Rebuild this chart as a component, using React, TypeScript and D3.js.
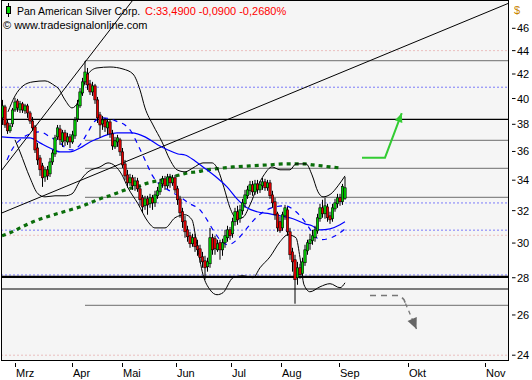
import React from "react";
import * as d3 from "d3";

const W = 532;
const H = 380;
const FONT = "'Liberation Sans', Arial, sans-serif";

// ---- OHLC (daily, late Feb .. early Sep) ----
const opens = [
  38.49, 39.34, 38.1, 37.51, 38.03, 39.1, 39.81, 39.1, 39.58, 39.03,
  39.42, 38.87, 38.25, 37.8, 36.25, 35.54, 34.98, 34.22, 34.71, 34.43,
  35.26, 35.82, 37.06, 37.65, 36.69, 37.36, 36.69, 37.06, 36.69, 37.13,
  38.41, 39.42, 40.45, 41.35, 42.0, 41.18, 40.53, 41.02, 39.89, 38.72,
  38.03, 38.33, 37.73, 38.18, 37.28, 36.33, 36.69, 36.84, 35.97, 35.12,
  34.36, 33.82, 34.16, 33.62, 33.95, 33.42, 32.83, 32.31, 32.76, 32.44,
  32.83, 32.5, 32.96, 33.22, 33.75, 34.09, 33.62, 34.16, 33.82, 34.16,
  33.42, 32.76, 31.93, 31.36, 30.8, 30.44, 29.96, 30.32, 29.84, 29.66,
  29.19, 28.96, 28.62, 28.79, 30.32, 30.26, 29.6, 30.02, 29.6, 30.02,
  30.32, 30.8, 30.56, 31.3, 31.93, 31.49, 31.99, 32.44, 32.96, 33.29,
  33.69, 33.22, 33.75, 33.35, 33.62, 33.89, 33.49, 33.82, 33.02, 32.57,
  31.8, 31.3, 30.92, 31.67, 32.05, 30.68, 29.48, 29.02, 28.0, 28.56,
  28.23, 28.85, 29.54, 29.96, 30.14, 30.32, 30.74, 31.49, 32.18, 31.8,
  32.24, 31.67, 31.49, 32.11, 32.44, 32.83, 32.57, 32.8,
];
const highs = [
  39.89, 39.5, 38.33, 38.1, 39.26, 40.05, 39.97, 39.81, 39.73, 39.58,
  39.58, 39.03, 38.56, 37.95, 36.62, 35.75, 35.19, 34.91, 34.98, 35.54,
  36.11, 37.21, 37.95, 37.95, 37.58, 37.58, 37.36, 37.28, 37.51, 38.56,
  39.89, 40.85, 41.68, 43.1, 42.51, 41.51, 41.35, 41.18, 40.13, 38.95,
  38.64, 38.49, 38.41, 38.33, 37.58, 37.06, 37.21, 36.99, 36.25, 35.4,
  34.71, 34.43, 34.36, 34.22, 34.16, 33.62, 33.02, 32.96, 32.96, 33.09,
  33.02, 33.29, 33.55, 34.09, 34.29, 34.29, 34.43, 34.43, 34.36, 34.36,
  33.62, 32.96, 32.18, 31.67, 31.05, 30.68, 30.56, 30.56, 30.2, 29.9,
  29.48, 29.25, 29.14, 30.92, 30.56, 30.44, 30.2, 30.2, 30.26, 30.8,
  31.05, 30.98, 31.55, 32.18, 32.31, 32.37, 32.76, 33.35, 33.62, 33.95,
  33.95, 34.02, 34.02, 33.95, 34.16, 34.09, 34.02, 34.02, 33.29, 32.83,
  31.93, 31.61, 31.93, 32.37, 32.24, 30.92, 29.72, 29.31, 28.9, 28.79,
  29.14, 29.9, 30.2, 30.56, 30.8, 31.05, 31.8, 32.44, 32.7, 32.83,
  32.44, 31.93, 32.44, 32.76, 33.09, 33.09, 33.75, 34.22,
];
const lows = [
  37.95, 37.73, 37.28, 37.36, 37.8, 38.95, 38.95, 38.87, 38.87, 38.8,
  38.49, 38.03, 37.51, 35.89, 35.05, 34.29, 33.55, 33.89, 34.02, 34.22,
  35.05, 35.61, 36.84, 36.47, 36.33, 36.4, 36.47, 36.25, 36.55, 36.91,
  38.18, 39.26, 40.21, 41.1, 40.69, 40.29, 40.21, 39.58, 38.1, 36.99,
  37.58, 37.43, 37.21, 36.99, 36.11, 36.18, 36.33, 35.68, 34.84, 34.02,
  33.49, 33.62, 33.35, 33.29, 33.22, 32.31, 31.86, 32.05, 31.74, 32.18,
  32.05, 32.24, 32.76, 33.02, 33.49, 33.35, 33.42, 33.49, 33.62, 33.15,
  32.37, 31.55, 30.92, 30.32, 30.08, 29.72, 29.78, 29.48, 29.25, 28.85,
  28.56, 27.89, 28.34, 28.56, 29.31, 29.31, 29.48, 29.02, 29.25, 29.72,
  30.08, 30.2, 30.32, 31.05, 31.11, 31.24, 31.74, 32.18, 32.76, 33.02,
  32.96, 33.02, 33.09, 33.15, 33.35, 33.29, 33.29, 32.76, 32.18, 31.42,
  30.68, 30.62, 30.74, 31.42, 30.44, 29.02, 28.34, 26.59, 27.61, 27.95,
  28.0, 28.67, 29.31, 29.6, 29.9, 30.08, 30.56, 31.3, 31.55, 31.49,
  31.3, 31.17, 31.3, 31.93, 32.18, 32.31, 32.37, 32.7,
];
const closes = [
  39.42, 37.95, 37.51, 37.88, 39.1, 39.73, 39.26, 39.58, 39.1, 39.42,
  38.87, 38.25, 37.73, 36.11, 35.4, 34.71, 34.16, 34.71, 34.29, 35.26,
  35.89, 36.99, 37.73, 36.84, 37.36, 36.77, 37.06, 36.69, 37.21, 38.33,
  39.5, 40.53, 41.35, 42.17, 41.1, 40.53, 41.02, 39.89, 38.49, 37.95,
  38.33, 37.8, 38.18, 37.28, 36.4, 36.77, 36.99, 35.97, 35.05, 34.29,
  33.82, 34.16, 33.62, 33.95, 33.42, 32.7, 32.24, 32.76, 32.37, 32.83,
  32.5, 33.02, 33.29, 33.82, 34.09, 33.62, 34.22, 33.82, 34.16, 33.35,
  32.7, 31.86, 31.3, 30.68, 30.38, 29.96, 30.32, 29.78, 29.6, 29.14,
  28.9, 28.56, 28.9, 30.32, 29.6, 29.66, 29.96, 29.6, 30.02, 30.44,
  30.8, 30.44, 31.3, 31.93, 31.42, 32.05, 32.5, 33.02, 33.35, 33.69,
  33.22, 33.75, 33.35, 33.69, 33.89, 33.49, 33.82, 32.96, 32.5, 31.74,
  30.92, 30.74, 31.74, 32.18, 30.68, 29.31, 28.9, 27.89, 28.56, 28.17,
  28.9, 29.6, 30.02, 30.2, 30.44, 30.8, 31.55, 32.18, 31.8, 32.31,
  31.55, 31.42, 32.18, 32.5, 32.83, 32.57, 33.58, 33.49,
];

// ---- axes ----
const monthLabels = ["Mrz", "Apr", "Mai", "Jun", "Jul", "Aug", "Sep", "Okt", "Nov"];
const monthPos = [4.84, 27.9, 48, 69.2, 91.6, 111.5, 134.7, 162, 193.1];
const yTickValues = [24, 26, 28, 30, 32, 34, 36, 38, 40, 42, 44, 46];

// ---- indicators [barIndex, price] ----
const bbUpper: [number, number][] = [
  [2.2, 38.95], [5, 40.21], [8.2, 41.02], [12.2, 41.35], [17, 41.43], [21, 41.02],
  [22.2, 40.85], [25, 39.89], [27.8, 39.26], [30.2, 39.73], [32.2, 40.85], [34.2, 42.0],
  [37.8, 42.51], [43, 42.59], [48.2, 42.42], [52.2, 42.0], [55, 40.69], [57, 39.26],
  [60.2, 37.95], [63.8, 36.69], [67, 35.4], [69.8, 34.71], [73, 34.57], [76.2, 34.84],
  [80.2, 35.19], [83.8, 35.19], [86.2, 34.71], [88.6, 33.49], [91, 32.18], [93.4, 31.55],
  [95.8, 31.55], [99, 32.37], [101.8, 33.49], [104.6, 34.36], [107.8, 34.91], [111, 34.71],
  [115, 34.71], [117.4, 35.12], [121.4, 35.12], [123.8, 34.36], [126.2, 33.22], [128.2, 32.89],
  [131.4, 33.09], [134.2, 33.62], [137, 34.29],
];
const bbLower: [number, number][] = [
  [5, 36.84], [7, 35.97], [11, 34.16], [14.2, 33.09], [17, 32.89], [21, 32.96],
  [25, 32.96], [27.8, 33.09], [31, 33.95], [34.2, 34.57], [39, 34.91], [42.2, 35.19],
  [45, 34.98], [47.8, 34.36], [50.2, 33.49], [54.2, 32.44], [58.2, 31.3], [61, 30.92],
  [65, 30.92], [69, 31.55], [73, 31.74], [75.8, 31.42], [77.8, 29.9], [80.2, 28.17],
  [83, 27.34], [85.8, 27.07], [88.2, 27.18], [92.2, 28.0], [96.2, 28.11], [100.2, 28.0],
  [103, 28.56], [107, 29.19], [111, 30.08], [114.2, 30.5], [117.4, 30.32], [119, 29.14],
  [120.6, 27.61], [123, 27.23], [127, 27.5], [131, 27.67], [135, 27.45], [137, 27.72],
];
const maSlow: [number, number][] = [
  [-0.2, 37.06], [7, 36.99], [11, 36.99], [15, 36.62], [19, 36.25], [23, 35.97],
  [27, 35.97], [31, 36.25], [35, 36.69], [37.8, 36.91], [41.8, 37.21], [45.8, 37.36],
  [51.8, 37.36], [57, 37.06], [62.2, 36.47], [66.2, 36.11], [70.2, 35.82], [73, 35.75],
  [77, 35.33], [80.2, 34.91], [85.8, 34.16], [89.8, 33.55], [93.8, 32.76], [97.8, 32.18],
  [101.8, 31.93], [107, 31.8], [111, 31.67], [116.2, 31.49], [121, 31.17], [123.8, 31.05],
  [127, 30.8], [131, 30.86], [135, 31.11], [137, 31.3],
];
const maFast: [number, number][] = [
  [1.8, 35.4], [4.2, 36.25], [7, 36.84], [11, 37.28], [15, 37.43], [19, 37.06],
  [23, 36.62], [25.8, 36.18], [27.8, 36.11], [31, 36.47], [34.2, 37.43], [37, 38.25],
  [39.8, 38.49], [43, 38.41], [46.2, 38.18], [49, 37.95], [51.8, 37.36], [53.8, 36.62],
  [57, 35.4], [59.8, 34.36], [63, 33.69], [66.2, 33.35], [71, 32.89], [75, 32.44],
  [79, 32.05], [81.8, 31.42], [84.2, 30.8], [87, 30.2], [90.2, 29.9], [94.2, 30.26],
  [98.2, 30.98], [101.4, 31.55], [105, 31.99], [109, 32.24], [113, 32.31], [117, 31.99],
  [121, 31.3], [123.8, 30.68], [127, 30.2], [130.2, 30.26], [133.8, 30.5], [137, 30.86],
];
const ma200: [number, number][] = [
  [-0.2, 30.44], [3, 30.62], [7, 30.92], [12.2, 31.3], [19, 31.67], [25.8, 31.99],
  [32.2, 32.31], [39, 32.76], [43.8, 33.02], [47, 33.22], [50.2, 33.42], [53.8, 33.55],
  [57, 33.75], [60.2, 33.89], [64.2, 34.02], [67.8, 34.22], [71, 34.36], [74.2, 34.5],
  [77.8, 34.57], [81.8, 34.71], [85, 34.77], [92.2, 34.91], [99, 34.98], [106.2, 35.05],
  [113, 35.12], [121, 35.12], [124.2, 35.05], [127.8, 34.98], [131, 34.91], [135, 34.84],
];

// ---- horizontal levels ----
const grayLevels = [43.13, 36.8, 34.81, 32.86, 26.5];
const grayStart = 33;
const blackLevels = [38.38, 27.38];
const thickLevel = 28.05;
const blueDotLevels = [40.83, 32.43, 30.72, 28.1];
const pinkDotLevels = [44.0, 30.47, 24.0];

// ---- trend lines & arrows ----
const steepTrend: [number, number][] = [[0, 34.75], [40, 44.99]];
const longTrend: [number, number][] = [[0, 31.87], [200, 48.11]];
const upArrow: [number, number][] = [[143.8, 35.56], [153, 35.56], [159.7, 38.85]];
const downArrow: [number, number][] = [[147, 27.03], [159, 27.03], [160.6, 26.8], [161.2, 26.6], [165.6, 25.28]];

const PL = 1.5, PR = 508.5, PT = 0.5, PB = 360.5;

const x = d3.scaleLinear().domain([0, 202]).range([2.5, 507.5]);
const y = d3.scaleLog().domain([24, 46]).range([355.2, 28.3]);

const GREEN = "#00d000";
const RED = "#e80000";

function extend(p: [number, number][]) {
  const x1 = x(p[0][0]), y1 = y(p[0][1]);
  const x2 = x(p[1][0]), y2 = y(p[1][1]);
  const m = (y2 - y1) / (x2 - x1);
  return { x1: PL, y1: y1 + m * (PL - x1), x2: PR, y2: y1 + m * (PR - x1) };
}

function head(p: [number, number][], len: number, half: number) {
  const a = p[p.length - 2], b = p[p.length - 1];
  const ax = x(a[0]), ay = y(a[1]), bx = x(b[0]), by = y(b[1]);
  const d = Math.hypot(bx - ax, by - ay);
  const ux = (bx - ax) / d, uy = (by - ay) / d;
  const cx = bx - ux * len, cy = by - uy * len;
  return `${bx},${by} ${cx - uy * half},${cy + ux * half} ${cx + uy * half},${cy - ux * half}`;
}

export default function App() {
  const line = d3
    .line<[number, number]>()
    .x((d) => x(d[0]))
    .y((d) => y(d[1]))
    .curve(d3.curveMonotoneX);
  const poly = d3
    .line<[number, number]>()
    .x((d) => x(d[0]))
    .y((d) => y(d[1]));
  const st = extend(steepTrend);
  const lt = extend(longTrend);
  const downPath = poly(downArrow.slice(0, 4)) || "";
  return (
    <svg
      width={W}
      height={H}
      style={{ position: "absolute", left: 0, top: 0, background: "#fff" }}
      fontFamily={FONT}
    >
      <defs>
        <clipPath id="plot">
          <rect x={PL} y={PT} width={PR - PL} height={PB - PT} />
        </clipPath>
      </defs>
      <rect x={PL} y={PT} width={PR - PL} height={PB - PT} fill="#f5f5f5" />
      <g clipPath="url(#plot)">
        {pinkDotLevels.map((v, i) => (
          <line key={"p" + i} x1={PL} x2={PR} y1={y(v)} y2={y(v)} stroke="#e08888" strokeWidth={1} strokeDasharray="1 3" />
        ))}
        {blueDotLevels.map((v, i) => (
          <line key={"b" + i} x1={PL} x2={PR} y1={y(v) - 1} y2={y(v) - 1} stroke="#0000ff" strokeWidth={1} strokeDasharray="1 3" />
        ))}
        {grayLevels.map((v, i) => (
          <line key={"g" + i} x1={x(grayStart)} x2={PR} y1={y(v)} y2={y(v)} stroke="#888" strokeWidth={1.3} />
        ))}
        {blackLevels.map((v, i) => (
          <line key={"k" + i} x1={PL} x2={PR} y1={y(v)} y2={y(v)} stroke="#000" strokeWidth={1.2} />
        ))}
        <line x1={PL} x2={PR} y1={y(thickLevel)} y2={y(thickLevel)} stroke="#000" strokeWidth={2.2} />
        <line {...st} stroke="#000" strokeWidth={1} />
        <line {...lt} stroke="#000" strokeWidth={1} />
        <path d={line(ma200) || ""} fill="none" stroke="#0b6e0b" strokeWidth={3.2} strokeDasharray="4 4" />
        <path d={line(bbUpper) || ""} fill="none" stroke="#000" strokeWidth={1} />
        <path d={line(bbLower) || ""} fill="none" stroke="#000" strokeWidth={1} />
        <path d={line(maSlow) || ""} fill="none" stroke="#0000ff" strokeWidth={1.2} />
        <path d={line(maFast) || ""} fill="none" stroke="#0000ff" strokeWidth={1.2} strokeDasharray="5 5" />
        {closes.map((c, i) => {
          const cx = x(i);
          const o = opens[i];
          const top = y(Math.max(o, c));
          const bot = y(Math.min(o, c));
          return (
            <g key={i}>
              <line x1={cx} x2={cx} y1={y(highs[i])} y2={y(lows[i])} stroke="#000" strokeWidth={1} />
              <rect
                x={cx - 1.2}
                y={top}
                width={2.4}
                height={Math.max(1, bot - top)}
                fill={c >= o ? GREEN : RED}
                stroke="#000"
                strokeWidth={0.6}
              />
            </g>
          );
        })}
        <path d={poly(upArrow) || ""} fill="none" stroke="#33cc33" strokeWidth={2} />
        <polygon points={head(upArrow, 9, 4)} fill="#33cc33" />
        <path d={downPath} fill="none" stroke="#777" strokeWidth={1.6} strokeDasharray="6 5" />
        <path d={poly(downArrow.slice(3)) || ""} fill="none" stroke="#777" strokeWidth={1.3} strokeDasharray="4 4" />
        <polygon points={head(downArrow, 11, 5)} fill="#666" />
      </g>
      <rect x={PL} y={PT} width={PR - PL} height={PB - PT} fill="none" stroke="#000" strokeWidth={1} />

      {/* legend */}
      <line x1={8.5} x2={8.5} y1={3} y2={17} stroke="#000" strokeWidth={1} />
      <rect x={6.5} y={6.5} width={4} height={7} fill={GREEN} stroke="#000" strokeWidth={1} />
      <text x={17} y={14.5} fontSize={10.5} fill="#000">Pan American Silver Corp.</text>
      <text x={145} y={14.5} fontSize={11} fill="#ff0000">C:33,4900 -0,0900 -0,2680%</text>
      <text x={3} y={29} fontSize={11} fill="#000">© www.tradesignalonline.com</text>

      {/* y axis */}
      <text x={514} y={14} fontSize={11} fill="#c88400">$</text>
      {yTickValues.map((v) => (
        <g key={v}>
          <line x1={512} x2={515.5} y1={y(v)} y2={y(v)} stroke="#000" strokeWidth={1} />
          <text x={517} y={y(v) + 4} fontSize={11} fill="#000">{v}</text>
        </g>
      ))}

      {/* x axis */}
      {monthLabels.map((m, i) => {
        const tx = Math.round(x(monthPos[i])) + 0.5;
        return (
          <g key={m}>
            <line x1={tx} x2={tx} y1={363} y2={367} stroke="#000" strokeWidth={1} />
            <text x={tx + 0.5} y={377} fontSize={11} fill="#000">{m}</text>
          </g>
        );
      })}
    </svg>
  );
}
